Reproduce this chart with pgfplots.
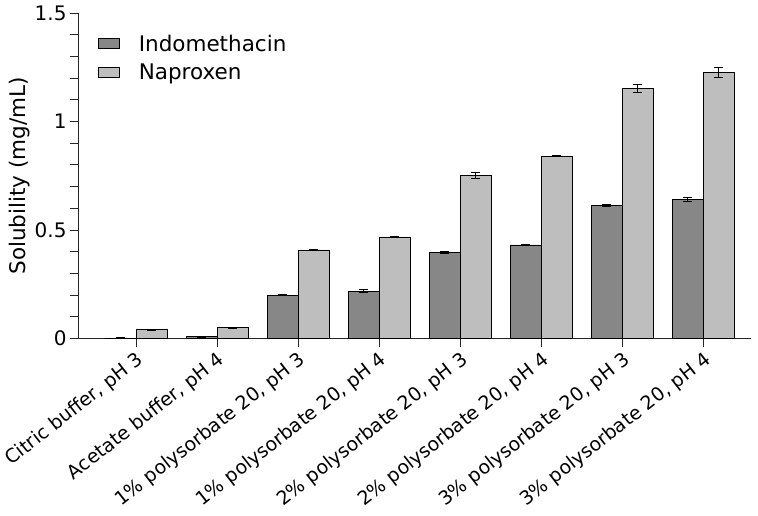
\documentclass[border=0pt]{standalone}
\usepackage{fontspec}
\setmainfont{DejaVu Sans}
\usepackage{pgfplots}
\pgfplotsset{compat=1.18}
\definecolor{indo}{HTML}{878787}
\definecolor{napr}{HTML}{BEBEBE}
\begin{document}
\begin{tikzpicture}
\begin{axis}[
  at={(0,0)}, anchor=south west,
  scale only axis, width=673bp, height=325.5bp,
  font=\fontsize{21.5bp}{26bp}\selectfont,
  ybar=0pt, bar width=31bp,
  xmin=-0.716, xmax=7.59, ymin=0, ymax=1.5,
  axis x line=bottom, axis y line=left,
  axis line style={-, line width=0.9bp, black!85},
  xtick=data,
  xticklabels={{Citric buffer, pH 3},{Acetate buffer, pH 4},{1\% polysorbate 20, pH 3},{1\% polysorbate 20, pH 4},{2\% polysorbate 20, pH 3},{2\% polysorbate 20, pH 4},{3\% polysorbate 20, pH 3},{3\% polysorbate 20, pH 4}},
  xticklabel style={rotate=38, anchor=north east, inner sep=2.5bp, font=\fontsize{19bp}{23bp}\selectfont},
  ytick={0,0.5,1,1.5}, yticklabels={0,0.5,1,1.5},
  yticklabel style={font=\fontsize{20bp}{24bp}\selectfont},
  minor y tick num=4,
  tick align=outside, major tick length=8bp, minor tick length=8bp,
  tick style={line width=0.9bp, black!85},
  ylabel={Solubility (mg/mL)},
  ylabel style={at={(rel axis cs:0,0.5)}, anchor=center, yshift=58bp},
  legend style={draw=none, fill=none, at={(rel axis cs:0.03,0.94)}, anchor=north west,
    font=\fontsize{21.5bp}{26bp}\selectfont, row sep=7bp, inner sep=0pt},
  legend cell align=left,
  legend image code/.code={\draw[#1, line width=0.8bp] (0bp,-5bp) rectangle (21bp,5bp);
    \path[draw=none, fill=none] (0bp,0bp) -- (38bp,0bp);},
  error bars/error bar style={line width=0.9bp, black},
  error bars/error mark options={rotate=90, mark size=4.5bp, line width=0.9bp, black},
]
\addplot[fill=indo, draw=black, line width=0.8bp,
  error bars/.cd, y dir=both, y explicit]
  coordinates {
  (0,0.002) +- (0,0.001)
  (1,0.008) +- (0,0.001)
  (2,0.200) +- (0,0.003)
  (3,0.218) +- (0,0.007)
  (4,0.395) +- (0,0.004)
  (5,0.431) +- (0,0.003)
  (6,0.614) +- (0,0.004)
  (7,0.641) +- (0,0.010)
  };
\addlegendentry{Indomethacin}
\addplot[fill=napr, draw=black, line width=0.8bp,
  error bars/.cd, y dir=both, y explicit]
  coordinates {
  (0,0.040) +- (0,0.001)
  (1,0.049) +- (0,0.004)
  (2,0.408) +- (0,0.003)
  (3,0.468) +- (0,0.003)
  (4,0.753) +- (0,0.014)
  (5,0.840) +- (0,0.003)
  (6,1.153) +- (0,0.020)
  (7,1.226) +- (0,0.022)
  };
\addlegendentry{Naproxen}
\end{axis}
\pgfresetboundingbox
\useasboundingbox (-78bp,-177.5bp) rectangle (680bp,338.5bp);
\end{tikzpicture}
\end{document}
